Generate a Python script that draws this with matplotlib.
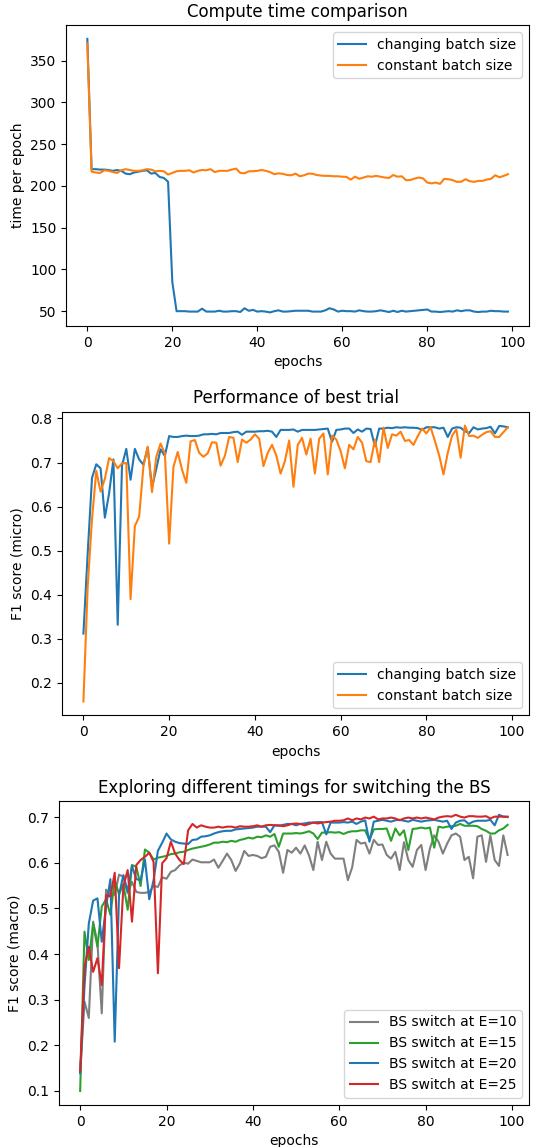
import matplotlib
matplotlib.use("Agg")
import matplotlib.pyplot as plt
import numpy as np

epochs = list(range(100))

# ---- Plot 1: compute time ----
time_changing = [376, 220, 220, 219.5, 219.5, 219, 218, 219, 218, 214.7,
                 214, 216, 217, 218, 218.7, 214.7, 215.5, 210.7, 209.5, 205,
                 85, 50, 50, 50, 49.5, 49.5, 49.5, 53, 49.5, 49.5,
                 49.5, 50.5, 49.5, 49.5, 50, 50, 49, 53.5, 50.5, 51.5,
                 49.5, 50, 49.5, 48.5, 50, 51, 49.5, 49.5, 50, 50.5,
                 50.5, 50.5, 50.5, 49.5, 49.5, 49.5, 51, 53.5, 52, 49.5,
                 50.5, 50, 50, 49.5, 51, 50, 49.5, 49.5, 50, 51,
                 50, 49, 50.5, 49, 50.5, 49.5, 50, 50.5, 51, 51.5,
                 52, 49.5, 49.5, 49, 49.5, 50, 49.5, 51, 50, 51,
                 51, 49.5, 49, 49.5, 49.5, 50.5, 50, 50, 49.5, 49.5]
time_constant = [370.5, 217, 216, 215.5, 218.7, 218, 216.7, 215.5, 218.7, 220,
                 219, 218, 218, 218.7, 220, 219.5, 217.5, 218, 217.5, 213.5,
                 215.5, 217.5, 218, 218, 218.7, 216, 218, 219, 218.7, 220,
                 216.5, 218, 218, 218, 219.5, 220.7, 215.5, 215, 217.5, 217.5,
                 218, 219, 218, 216.5, 214, 215, 214.5, 213, 212.7, 214.7,
                 211.5, 212.7, 214.7, 214.5, 213, 212.3, 212, 212, 211.5, 211.5,
                 211, 210.7, 207.5, 211, 208.5, 210, 211.5, 211, 212, 211,
                 210, 209.5, 213, 211, 211.5, 206.8, 207, 208.7, 210, 209,
                 204, 203, 204, 202.4, 208.4, 208, 206.8, 204.8, 205, 208,
                 205.6, 204.8, 206, 206, 207.5, 208.4, 212.7, 210.3, 212, 214]

# ---- Plot 2: F1 micro ----
f1_changing = [0.312, 0.495, 0.665, 0.696, 0.687, 0.575, 0.631, 0.707, 0.332, 0.693,
               0.731, 0.661, 0.731, 0.707, 0.695, 0.734, 0.643, 0.686, 0.730, 0.715,
               0.760, 0.758, 0.758, 0.760, 0.761, 0.760, 0.760, 0.761, 0.764, 0.764,
               0.765, 0.764, 0.767, 0.767, 0.767, 0.769, 0.770, 0.763, 0.770, 0.770,
               0.770, 0.771, 0.771, 0.772, 0.770, 0.758, 0.774, 0.774, 0.774, 0.775,
               0.770, 0.774, 0.774, 0.774, 0.774, 0.775, 0.776, 0.777, 0.747, 0.774,
               0.775, 0.777, 0.777, 0.767, 0.775, 0.770, 0.777, 0.776, 0.737, 0.777,
               0.777, 0.779, 0.778, 0.780, 0.779, 0.780, 0.779, 0.779, 0.778, 0.774,
               0.780, 0.780, 0.780, 0.777, 0.779, 0.758, 0.777, 0.780, 0.779, 0.771,
               0.767, 0.780, 0.775, 0.777, 0.778, 0.781, 0.766, 0.783, 0.782, 0.780]
f1_constant = [0.158, 0.420, 0.571, 0.681, 0.634, 0.663, 0.710, 0.703, 0.687, 0.698,
               0.699, 0.390, 0.556, 0.577, 0.692, 0.736, 0.633, 0.713, 0.743, 0.721,
               0.516, 0.690, 0.724, 0.684, 0.654, 0.748, 0.751, 0.722, 0.713, 0.721,
               0.746, 0.745, 0.693, 0.715, 0.758, 0.756, 0.701, 0.752, 0.745, 0.752,
               0.764, 0.754, 0.692, 0.722, 0.740, 0.716, 0.675, 0.703, 0.750, 0.645,
               0.740, 0.756, 0.718, 0.754, 0.675, 0.754, 0.766, 0.673, 0.761, 0.752,
               0.726, 0.687, 0.740, 0.730, 0.758, 0.745, 0.703, 0.701, 0.752, 0.701,
               0.779, 0.733, 0.764, 0.761, 0.770, 0.749, 0.751, 0.740, 0.760, 0.777,
               0.766, 0.780, 0.749, 0.716, 0.673, 0.722, 0.761, 0.775, 0.711, 0.784,
               0.760, 0.761, 0.756, 0.763, 0.769, 0.771, 0.758, 0.758, 0.769, 0.780]

# ---- Plot 3: F1 macro, different switch timings ----
f1_e10 = [0.140, 0.296, 0.260, 0.471, 0.424, 0.270, 0.541, 0.529, 0.530, 0.574,
          0.569, 0.533, 0.558, 0.536, 0.534, 0.534, 0.536, 0.549, 0.547, 0.568,
          0.565, 0.580, 0.584, 0.594, 0.600, 0.598, 0.607, 0.604, 0.601, 0.601,
          0.601, 0.607, 0.589, 0.604, 0.620, 0.606, 0.582, 0.599, 0.626, 0.615,
          0.617, 0.615, 0.610, 0.613, 0.635, 0.638, 0.624, 0.578, 0.628, 0.622,
          0.633, 0.620, 0.638, 0.616, 0.584, 0.646, 0.606, 0.646, 0.620, 0.609,
          0.609, 0.609, 0.562, 0.590, 0.650, 0.642, 0.644, 0.620, 0.650, 0.639,
          0.640, 0.617, 0.609, 0.624, 0.584, 0.645, 0.606, 0.591, 0.628, 0.639,
          0.584, 0.631, 0.660, 0.646, 0.620, 0.642, 0.660, 0.664, 0.657, 0.606,
          0.613, 0.566, 0.657, 0.660, 0.602, 0.660, 0.606, 0.593, 0.660, 0.617]
f1_e15 = [0.100, 0.449, 0.387, 0.466, 0.416, 0.504, 0.520, 0.486, 0.562, 0.531,
          0.553, 0.497, 0.595, 0.591, 0.549, 0.629, 0.622, 0.607, 0.611, 0.613,
          0.615, 0.619, 0.620, 0.623, 0.624, 0.628, 0.631, 0.633, 0.635, 0.637,
          0.640, 0.644, 0.644, 0.646, 0.645, 0.648, 0.646, 0.650, 0.652, 0.655,
          0.653, 0.657, 0.656, 0.660, 0.657, 0.663, 0.635, 0.664, 0.664, 0.664,
          0.665, 0.664, 0.666, 0.669, 0.664, 0.652, 0.666, 0.666, 0.667, 0.666,
          0.667, 0.663, 0.667, 0.669, 0.669, 0.671, 0.671, 0.650, 0.673, 0.674,
          0.674, 0.675, 0.648, 0.675, 0.660, 0.671, 0.628, 0.674, 0.675, 0.677,
          0.675, 0.677, 0.633, 0.679, 0.677, 0.679, 0.680, 0.681, 0.685, 0.681,
          0.681, 0.681, 0.680, 0.674, 0.670, 0.664, 0.664, 0.671, 0.675, 0.683]
f1_e20 = [0.139, 0.329, 0.467, 0.517, 0.522, 0.427, 0.504, 0.564, 0.208, 0.529,
          0.573, 0.537, 0.593, 0.564, 0.562, 0.607, 0.520, 0.562, 0.626, 0.644,
          0.664, 0.651, 0.646, 0.643, 0.642, 0.641, 0.650, 0.651, 0.657, 0.658,
          0.660, 0.664, 0.667, 0.669, 0.670, 0.670, 0.673, 0.674, 0.675, 0.676,
          0.677, 0.679, 0.679, 0.679, 0.667, 0.682, 0.681, 0.683, 0.685, 0.685,
          0.682, 0.685, 0.686, 0.688, 0.688, 0.689, 0.689, 0.662, 0.688, 0.688,
          0.688, 0.689, 0.688, 0.690, 0.685, 0.690, 0.693, 0.646, 0.690, 0.692,
          0.694, 0.692, 0.690, 0.693, 0.694, 0.692, 0.690, 0.694, 0.692, 0.690,
          0.692, 0.693, 0.694, 0.692, 0.690, 0.692, 0.674, 0.688, 0.692, 0.693,
          0.685, 0.690, 0.692, 0.692, 0.692, 0.694, 0.682, 0.705, 0.701, 0.700]
f1_e25 = [0.143, 0.372, 0.416, 0.361, 0.391, 0.332, 0.529, 0.526, 0.578, 0.369,
          0.548, 0.584, 0.471, 0.595, 0.606, 0.613, 0.622, 0.602, 0.358, 0.599,
          0.610, 0.646, 0.620, 0.606, 0.597, 0.671, 0.685, 0.677, 0.682, 0.679,
          0.677, 0.677, 0.679, 0.677, 0.679, 0.679, 0.677, 0.680, 0.679, 0.679,
          0.680, 0.682, 0.679, 0.682, 0.683, 0.682, 0.682, 0.680, 0.682, 0.685,
          0.686, 0.685, 0.682, 0.685, 0.688, 0.686, 0.688, 0.689, 0.690, 0.692,
          0.692, 0.693, 0.697, 0.693, 0.697, 0.695, 0.699, 0.697, 0.701, 0.695,
          0.697, 0.697, 0.699, 0.697, 0.693, 0.697, 0.699, 0.697, 0.699, 0.697,
          0.699, 0.697, 0.695, 0.699, 0.701, 0.702, 0.701, 0.705, 0.701, 0.699,
          0.702, 0.702, 0.701, 0.701, 0.702, 0.697, 0.701, 0.701, 0.701, 0.701]

W, H = 534, 1147
fig = plt.figure(figsize=(W / 100, H / 100), dpi=100)

def add_ax(left, top, right, bottom):
    return fig.add_axes([left / W, 1 - bottom / H, (right - left) / W, (bottom - top) / H])

ax1 = add_ax(66.3, 25.2, 529, 326.1)
ax2 = add_ax(62.2, 411.7, 529, 715.3)
ax3 = add_ax(58.8, 801, 529, 1104.8)

ax1.plot(epochs, time_changing, color="tab:blue", label="changing batch size")
ax1.plot(epochs, time_constant, color="tab:orange", label="constant batch size")
ax1.set_title("Compute time comparison")
ax1.set_xlabel("epochs")
ax1.set_ylabel("time per epoch")
ax1.legend(loc="upper right")

ax2.plot(epochs, f1_changing, color="tab:blue", label="changing batch size")
ax2.plot(epochs, f1_constant, color="tab:orange", label="constant batch size")
ax2.set_title("Performance of best trial")
ax2.set_xlabel("epochs")
ax2.set_ylabel("F1 score (micro)")
ax2.legend(loc="lower right")

ax3.plot(epochs, f1_e10, color="tab:gray", label="BS switch at E=10")
ax3.plot(epochs, f1_e15, color="tab:green", label="BS switch at E=15")
ax3.plot(epochs, f1_e20, color="tab:blue", label="BS switch at E=20")
ax3.plot(epochs, f1_e25, color="tab:red", label="BS switch at E=25")
ax3.set_title("Exploring different timings for switching the BS")
ax3.set_xlabel("epochs")
ax3.set_ylabel("F1 score (macro)")
ax3.legend(loc="lower right")

fig.savefig("out.png", dpi=100)
